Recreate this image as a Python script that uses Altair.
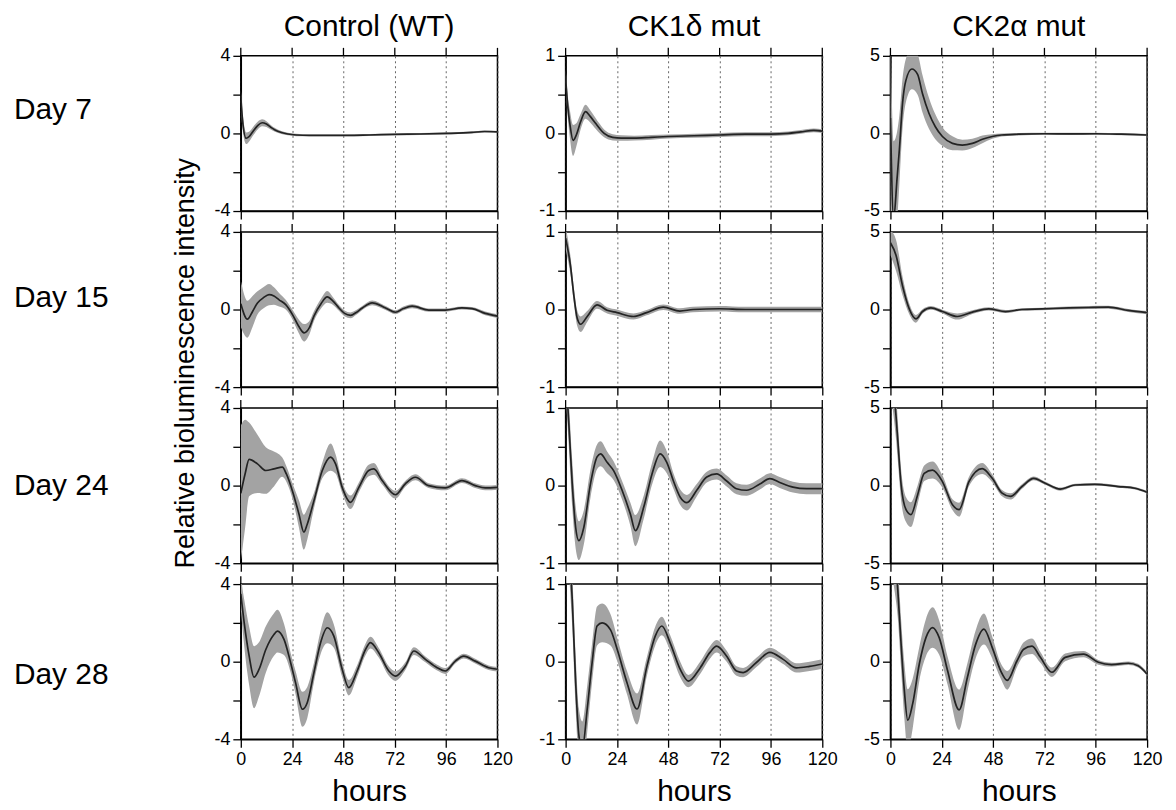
import altair as alt
import pandas as pd

FONT = "Liberation Sans"
HOURS_TICKS = [0, 24, 48, 72, 96, 120]
COLUMN_TITLES = ["Control (WT)", "CK1δ mut", "CK2α mut"]
ROW_LABELS = ["Day 7", "Day 15", "Day 24", "Day 28"]
Y_LIMITS = [4, 1, 5]
Y_TITLE = "Relative bioluminescence intensity"
X_TITLE = "hours"

# ---------------- Day 7 ----------------
wt_d7_t = [0, 0.8, 2.5, 4, 6, 8, 10, 12, 14, 16, 19, 22, 26, 32, 40, 50, 60, 72, 84, 96, 108, 114, 120]
wt_d7_mean = [1.9, 0.7, -0.25, -0.15, 0.15, 0.42, 0.55, 0.48, 0.32, 0.18, 0.05, -0.03, -0.08, -0.1, -0.1, -0.1, -0.08, -0.05, -0.03, 0.0, 0.05, 0.1, 0.08]
wt_d7_sd = [0.4, 0.45, 0.3, 0.25, 0.22, 0.2, 0.18, 0.15, 0.12, 0.1, 0.08, 0.07, 0.06, 0.05, 0.05, 0.05, 0.05, 0.05, 0.05, 0.05, 0.05, 0.05, 0.05]

ck1_d7_t = [0, 1, 2, 3.5, 5, 7, 9.3, 11.5, 14, 16, 18, 22, 26, 32, 40, 48, 60, 72, 84, 96, 104, 110, 116, 120]
ck1_d7_mean = [0.72, 0.35, 0.12, -0.09, -0.02, 0.15, 0.28, 0.22, 0.13, 0.06, 0.0, -0.05, -0.06, -0.06, -0.05, -0.04, -0.03, -0.02, -0.01, -0.01, 0.0, 0.02, 0.04, 0.03]
ck1_d7_sd = [0.12, 0.14, 0.18, 0.2, 0.15, 0.1, 0.09, 0.08, 0.07, 0.06, 0.05, 0.04, 0.035, 0.03, 0.03, 0.025, 0.025, 0.025, 0.025, 0.025, 0.025, 0.025, 0.025, 0.025]

ck2_d7_t = [0, 1.5, 3.1, 4.2, 5.7, 7.2, 10, 12.7, 15, 18, 21, 24.3, 29, 33.6, 38.3, 43, 47.6, 52, 60, 72, 84, 96, 108, 120]
ck2_d7_mean = [1.0, -5.5, -2.9, -1.0, 2.0, 3.4, 4.15, 3.8, 2.55, 1.3, 0.43, -0.2, -0.64, -0.75, -0.64, -0.38, -0.2, -0.1, -0.05, -0.02, -0.03, -0.02, -0.05, -0.1]
ck2_d7_sd = [6, 5, 3, 2.2, 1.6, 1.4, 1.3, 1.3, 1.2, 1.0, 0.8, 0.6, 0.45, 0.35, 0.3, 0.25, 0.15, 0.1, 0.08, 0.07, 0.07, 0.07, 0.07, 0.07]

# ---------------- Day 15 ----------------
wt_d15_t = [0, 3.1, 5.5, 7.8, 10.5, 13.2, 15.5, 17.9, 21, 24.1, 27, 29.6, 32, 34.2, 37.5, 40.4, 43, 45.9, 48.5, 51.3, 54, 56.8, 61.4, 67.7, 72.3, 76, 80.1, 87.9, 95.6, 103.4, 108.1, 114.3, 120]
wt_d15_mean = [0.3, -0.5, -0.1, 0.34, 0.6, 0.77, 0.7, 0.5, 0.25, -0.25, -0.85, -1.2, -0.95, -0.34, 0.3, 0.65, 0.45, 0.08, -0.2, -0.3, -0.15, 0.08, 0.34, 0.08, -0.14, 0.05, 0.17, -0.03, -0.03, 0.08, 0.05, -0.2, -0.34]
wt_d15_sd = [1.2, 0.95, 0.8, 0.6, 0.55, 0.55, 0.45, 0.35, 0.25, 0.25, 0.35, 0.45, 0.35, 0.25, 0.25, 0.3, 0.2, 0.15, 0.15, 0.15, 0.12, 0.1, 0.12, 0.1, 0.1, 0.1, 0.1, 0.08, 0.08, 0.08, 0.08, 0.1, 0.1]

ck1_d15_t = [0, 2.3, 3.9, 5.4, 7, 10.1, 14.7, 19.4, 24, 31.7, 37.9, 45.7, 53.4, 59.6, 72, 84, 96, 108, 120]
ck1_d15_mean = [0.92, 0.56, 0.17, -0.11, -0.19, -0.09, 0.06, -0.01, -0.04, -0.09, -0.04, 0.03, -0.02, 0.0, 0.01, 0.0, 0.0, 0.0, 0.0]
ck1_d15_sd = [0.15, 0.12, 0.1, 0.1, 0.1, 0.07, 0.05, 0.04, 0.04, 0.04, 0.035, 0.035, 0.035, 0.035, 0.035, 0.035, 0.035, 0.035, 0.035]

ck2_d15_t = [0, 2.6, 5.7, 8.8, 11.9, 15, 18.9, 24.3, 31.3, 38.3, 46, 53.8, 61.5, 70.8, 83.3, 92.6, 101.9, 111.2, 120]
ck2_d15_mean = [4.3, 3.5, 1.5, 0.04, -0.6, -0.13, 0.1, -0.13, -0.45, -0.17, 0.04, -0.13, 0.0, 0.04, 0.1, 0.13, 0.15, -0.06, -0.2]
ck2_d15_sd = [0.8, 1.0, 0.6, 0.35, 0.25, 0.15, 0.12, 0.12, 0.2, 0.12, 0.1, 0.1, 0.08, 0.08, 0.1, 0.1, 0.1, 0.1, 0.1]

# ---------------- Day 24 ----------------
wt_d24_t = [0, 2, 3.9, 7.8, 11.7, 15.5, 19.4, 21.3, 24.1, 27.2, 29.5, 31.1, 34.2, 38.1, 42, 44.3, 47.4, 51.3, 55.2, 59.8, 62.2, 66.1, 72.3, 76.9, 81.6, 87.8, 95.6, 103.4, 109.6, 114.3, 120]
wt_d24_mean = [-0.4, 0.6, 1.35, 1.12, 0.78, 0.86, 0.95, 0.6, -0.26, -1.47, -2.4, -1.98, -0.78, 0.78, 1.47, 1.12, -0.09, -0.86, -0.09, 0.78, 0.86, 0.26, -0.47, 0.09, 0.43, 0.0, -0.12, 0.26, 0.0, -0.12, -0.09]
wt_d24_sd = [3.5, 2.8, 1.9, 1.5, 1.2, 0.9, 0.5, 0.4, 0.4, 0.7, 0.9, 0.8, 0.4, 0.4, 0.7, 0.5, 0.3, 0.35, 0.25, 0.3, 0.3, 0.2, 0.2, 0.15, 0.15, 0.12, 0.12, 0.12, 0.12, 0.12, 0.12]

ck1_d24_t = [0, 1.6, 3.1, 4.7, 6.2, 8.5, 11.6, 14.7, 16.3, 19.4, 22.5, 26.4, 30.3, 32.6, 36.5, 40.4, 44.2, 47.3, 50.4, 53.6, 56.7, 61.3, 66, 70.6, 75.3, 79.9, 84.6, 90.8, 95.5, 100.1, 106.3, 112.6, 120]
ck1_d24_mean = [1.5, 0.75, 0.02, -0.54, -0.71, -0.54, 0.02, 0.37, 0.41, 0.3, 0.19, -0.06, -0.37, -0.58, -0.28, 0.15, 0.41, 0.3, 0.06, -0.15, -0.22, -0.06, 0.11, 0.15, 0.06, -0.04, -0.06, 0.02, 0.09, 0.04, -0.02, -0.04, -0.04]
ck1_d24_sd = [0.3, 0.3, 0.3, 0.27, 0.25, 0.22, 0.18, 0.16, 0.16, 0.14, 0.12, 0.12, 0.15, 0.2, 0.15, 0.14, 0.17, 0.14, 0.1, 0.1, 0.1, 0.08, 0.07, 0.07, 0.07, 0.07, 0.07, 0.07, 0.07, 0.07, 0.07, 0.07, 0.07]

ck2_d24_t = [0, 2.6, 3.4, 5, 7.3, 9.6, 12.7, 15.8, 19.7, 24.3, 29, 32.1, 36.7, 42.9, 47.6, 52.2, 56.1, 61.5, 67, 72.4, 79.4, 86.4, 95.6, 106.5, 114.3, 120]
ck2_d24_mean = [8, 4.5, 3.0, 0.04, -1.55, -1.87, -0.6, 0.79, 1.0, 0.26, -1.23, -1.55, 0.26, 1.1, 0.47, -0.49, -0.7, -0.06, 0.47, 0.15, -0.23, 0.04, 0.08, -0.06, -0.17, -0.43]
ck2_d24_sd = [2, 1.5, 1.3, 1.0, 0.8, 0.8, 0.6, 0.5, 0.55, 0.4, 0.35, 0.45, 0.3, 0.35, 0.25, 0.2, 0.2, 0.15, 0.12, 0.1, 0.1, 0.08, 0.08, 0.08, 0.08, 0.08]

# ---------------- Day 28 ----------------
wt_d28_t = [0, 1.6, 3.9, 6.2, 8.5, 11.7, 15.5, 17.1, 20.2, 23.3, 25.6, 28.8, 31.1, 34.2, 37.3, 40.4, 43.5, 47.4, 50.5, 54.4, 58.3, 60.6, 64.5, 69.2, 72.3, 77, 80.9, 86.3, 91.8, 95.6, 100.3, 104.2, 109.6, 115.9, 120]
wt_d28_mean = [3.5, 2.0, 0.3, -0.8, -0.4, 0.63, 1.4, 1.58, 1.15, -0.05, -1.08, -2.45, -2.1, -0.56, 0.98, 1.75, 1.32, -0.39, -1.34, -0.48, 0.63, 0.98, 0.46, -0.48, -0.74, -0.22, 0.55, 0.12, -0.31, -0.48, 0.03, 0.29, 0.03, -0.31, -0.39]
wt_d28_sd = [0.8, 1.2, 1.5, 1.6, 1.4, 1.2, 1.1, 1.1, 0.8, 0.5, 0.6, 0.9, 0.8, 0.5, 0.6, 0.8, 0.6, 0.4, 0.4, 0.3, 0.3, 0.3, 0.25, 0.25, 0.25, 0.2, 0.2, 0.15, 0.15, 0.15, 0.12, 0.12, 0.12, 0.12, 0.12]

ck1_d28_t = [0, 1.5, 3.1, 4.7, 6.2, 7.8, 10.1, 12.4, 14.7, 17.1, 21, 24.1, 28.7, 33.4, 38, 41.9, 45, 48.9, 53.6, 57.4, 62.9, 67.5, 70.6, 75.3, 79.9, 83, 89.2, 95.5, 101.7, 107.9, 114.1, 120]
ck1_d28_mean = [2.5, 1.6, 0.8, -0.27, -0.95, -1.12, -0.61, -0.01, 0.46, 0.5, 0.41, 0.16, -0.27, -0.61, -0.06, 0.33, 0.46, 0.24, -0.1, -0.25, -0.08, 0.12, 0.2, 0.07, -0.12, -0.14, -0.01, 0.12, 0.03, -0.08, -0.06, -0.03]
ck1_d28_sd = [0.4, 0.4, 0.35, 0.35, 0.35, 0.35, 0.3, 0.25, 0.25, 0.25, 0.2, 0.15, 0.15, 0.2, 0.12, 0.12, 0.12, 0.1, 0.1, 0.08, 0.08, 0.08, 0.08, 0.07, 0.06, 0.06, 0.06, 0.06, 0.06, 0.06, 0.06, 0.06]

ck2_d28_t = [0, 2, 3.4, 5, 6.5, 8.1, 10.4, 13.5, 16.6, 19.7, 22.8, 26.7, 32.1, 36, 39.8, 43.7, 47.6, 51.5, 54.6, 59.2, 62.3, 66.2, 70.1, 75.5, 81.7, 90.2, 97.2, 103.4, 111.2, 115.8, 120]
ck2_d28_mean = [9, 7, 4.7, 1.1, -1.85, -3.77, -2.7, -0.15, 1.55, 2.2, 1.55, -0.57, -3.1, -1.0, 1.1, 2.1, 0.91, -0.57, -1.2, 0.06, 0.8, 1.0, 0.28, -0.68, 0.28, 0.49, -0.04, -0.19, -0.1, -0.26, -0.8]
ck2_d28_sd = [3, 2.5, 1.8, 1.6, 1.8, 2.0, 1.6, 1.1, 1.2, 1.3, 1.1, 0.9, 1.3, 0.9, 0.9, 1.0, 0.7, 0.5, 0.6, 0.4, 0.45, 0.5, 0.35, 0.3, 0.25, 0.2, 0.15, 0.12, 0.12, 0.12, 0.12]

SERIES = [
    [(wt_d7_t, wt_d7_mean, wt_d7_sd), (ck1_d7_t, ck1_d7_mean, ck1_d7_sd), (ck2_d7_t, ck2_d7_mean, ck2_d7_sd)],
    [(wt_d15_t, wt_d15_mean, wt_d15_sd), (ck1_d15_t, ck1_d15_mean, ck1_d15_sd), (ck2_d15_t, ck2_d15_mean, ck2_d15_sd)],
    [(wt_d24_t, wt_d24_mean, wt_d24_sd), (ck1_d24_t, ck1_d24_mean, ck1_d24_sd), (ck2_d24_t, ck2_d24_mean, ck2_d24_sd)],
    [(wt_d28_t, wt_d28_mean, wt_d28_sd), (ck1_d28_t, ck1_d28_mean, ck1_d28_sd), (ck2_d28_t, ck2_d28_mean, ck2_d28_sd)],
]

PANEL_W = 258
PANEL_H = 156
ROW_LABEL_Y = [55, 66, 78, 91]
TICK_LEN = 8


def make_panel(r, c):
    t, m, s = SERIES[r][c]
    df = pd.DataFrame({
        "t": t,
        "mean": m,
        "lo": [a - b for a, b in zip(m, s)],
        "hi": [a + b for a, b in zip(m, s)],
    })
    lim = Y_LIMITS[c]
    half = lim / 2
    last = r == 3
    xs = alt.Scale(domain=[0, 120], nice=False, zero=False)
    ys = alt.Scale(domain=[-lim, lim], nice=False, zero=False)
    xaxis = alt.Axis(values=HOURS_TICKS, grid=True, gridDash=[2, 3], gridColor="#555555",
                     gridWidth=0.9, labels=last, labelFlush=False, tickSize=TICK_LEN,
                     title=X_TITLE if last else None, titlePadding=9)
    yaxis = alt.Axis(values=[-lim, -half, 0, half, lim], grid=False, tickSize=TICK_LEN,
                     labelExpr=f"abs(datum.value) == {half} ? '' : toString(datum.value)",
                     title=None)
    base = alt.Chart(df)
    band = base.mark_area(color="#a3a3a3", interpolate="monotone", clip=True).encode(
        x=alt.X("t:Q", scale=xs, axis=xaxis), y=alt.Y("lo:Q", scale=ys, axis=yaxis), y2="hi:Q")
    line = base.mark_line(color="#232323", strokeWidth=1.7, interpolate="monotone", clip=True).encode(
        x=alt.X("t:Q", scale=xs, axis=xaxis), y=alt.Y("mean:Q", scale=ys, axis=yaxis))
    # outward tick marks on the top edge, placed through the x scale
    top_ticks = alt.Chart(pd.DataFrame({"h": HOURS_TICKS})).mark_rule(
        color="black", strokeWidth=1.3).encode(
        x=alt.X("h:Q", scale=xs, axis=xaxis), y=alt.value(-TICK_LEN), y2=alt.value(0))
    layers = [band, line, top_ticks]
    if c == 0:
        lab = alt.Chart(pd.DataFrame({"label": [ROW_LABELS[r]]})).mark_text(
            align="left", baseline="middle", font=FONT, fontSize=30, color="black").encode(
            text="label:N", x=alt.value(-228), y=alt.value(ROW_LABEL_Y[r]))
        layers.append(lab)
        if r == 0:
            yt = alt.Chart(pd.DataFrame({"label": [Y_TITLE]})).mark_text(
                align="center", baseline="middle", angle=270, font=FONT, fontSize=27,
                color="black").encode(
                text="label:N", x=alt.value(-55), y=alt.value(309))
            layers.append(yt)
    panel = alt.layer(*layers).properties(width=PANEL_W, height=PANEL_H)
    if r == 0:
        panel = panel.properties(title=alt.TitleParams(
            COLUMN_TITLES[c], font=FONT, fontSize=30, fontWeight="normal", color="black",
            anchor="middle", frame="group", baseline="alphabetic", offset=-19))
    return panel


panels = [make_panel(r, c) for r in range(4) for c in range(3)]

chart = alt.concat(*panels, columns=3, spacing={"row": 21, "column": 68.5}, bounds="flush").properties(
    padding={"left": 5, "top": 1, "right": 5, "bottom": 0}
).configure_view(
    stroke="black", strokeWidth=1.5
).configure_axis(
    domainColor="black", domainWidth=1.5, tickColor="black", tickWidth=1.3,
    labelFont=FONT, labelFontSize=18, labelColor="black", labelPadding=3,
    titleFont=FONT, titleFontSize=30, titleFontWeight="normal", titleColor="black"
)

chart.save("out.html", embed_options={"renderer": "svg", "actions": False})
